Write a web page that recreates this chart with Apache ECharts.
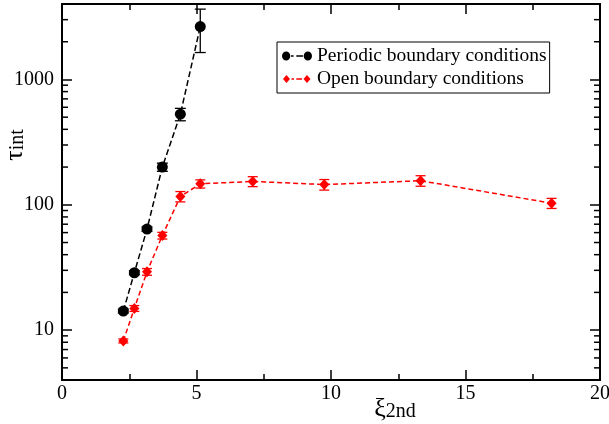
<!DOCTYPE html>
<html><head><meta charset="utf-8">
<script src="https://cdn.jsdelivr.net/npm/echarts@6/dist/echarts.min.js"></script>
<style>html,body{margin:0;padding:0;background:#fff}#c{width:609px;height:424px}</style>
</head><body><div id="c"></div>
<script>
// ---- data ----
const seriesNames = ['Periodic boundary conditions', 'Open boundary conditions'];
const periodicX = [2.28, 2.69, 3.16, 3.73, 4.40, 5.14];
const periodicY = [14.2, 28.7, 64, 200, 528, 2640];
const periodicErr = [0.5, 1, 2.5, 15, 60, 1000];
const openX = [2.28, 2.69, 3.16, 3.73, 4.40, 5.14, 7.09, 9.75, 13.33, 18.2];
const openY = [8.2, 14.9, 29.2, 56.8, 116.5, 147, 153.6, 145, 155.6, 103];
const openErr = [0.3, 0.8, 1.8, 3.5, 11, 11, 14, 14, 15, 9.5];
const xTicks = [0, 5, 10, 15, 20];
const yTickLabels = ['10', '100', '1000'];
const yMinorTicks = [5, 6, 7, 8, 9, 20, 30, 40, 50, 60, 70, 80, 90, 200, 300, 400, 500, 600, 700, 800, 900, 2000, 3000];
const yRange = [4, 4000];
const xTitle = {main: 'ξ', sub: '2nd'};
const yTitle = {main: 'τ', sub: 'int'};

// ---- chart ----
const FONT = '"Liberation Serif", "Times New Roman", serif';
const chart = echarts.init(document.getElementById('c'), null, {renderer: 'canvas'});

function errBar(color, capHalf) {
  return function (params, api) {
    const x = api.value(0), y = api.value(1), e = api.value(2);
    const top = api.coord([x, y + e]);
    const bot = api.coord([x, Math.max(y - e, yRange[0])]);
    const st = {stroke: color, lineWidth: 1.3};
    return {type: 'group', children: [
      {type: 'line', shape: {x1: top[0], y1: top[1], x2: bot[0], y2: bot[1]}, style: st},
      {type: 'line', shape: {x1: top[0] - capHalf, y1: top[1], x2: top[0] + capHalf, y2: top[1]}, style: st},
      {type: 'line', shape: {x1: bot[0] - capHalf, y1: bot[1], x2: bot[0] + capHalf, y2: bot[1]}, style: st}
    ]};
  };
}

const xMin = xTicks[0], xMax = xTicks[xTicks.length - 1];
const tickStyle = {color: '#000', width: 1.5};
function xAxisCfg(pos, showLabel) {
  return {
    type: 'value', position: pos, min: xMin, max: xMax, interval: xTicks[1] - xTicks[0],
    axisLine: {show: true, onZero: false, lineStyle: {color: '#000', width: 2}},
    axisTick: {show: true, inside: true, length: 10, lineStyle: tickStyle},
    minorTick: {show: true, splitNumber: 2, length: 6, lineStyle: tickStyle},
    splitLine: {show: false},
    axisLabel: {show: showLabel, color: '#000', fontFamily: FONT, fontSize: 20, margin: 4},
  };
}
function yAxisCfg(pos, showLabel) {
  return {
    type: 'log', logBase: 10, position: pos, min: yRange[0], max: yRange[1],
    axisLine: {show: true, onZero: false, lineStyle: {color: '#000', width: 2}},
    axisTick: {show: true, inside: true, length: 10, lineStyle: tickStyle},
    minorTick: {show: false},
    splitLine: {show: false},
    axisLabel: {
      show: showLabel, color: '#000', fontFamily: FONT, fontSize: 20, margin: 8,
      padding: [3, 0, 0, 0],
      formatter: function (v) {
        const s = String(Math.round(v));
        return yTickLabels.indexOf(s) >= 0 ? s : '';
      }
    }
  };
}

const titleRich = {
  a: {fontFamily: FONT, fontSize: 26, color: '#000', verticalAlign: 'bottom', lineHeight: 26},
  b: {fontFamily: FONT, fontSize: 20, color: '#000', verticalAlign: 'bottom', lineHeight: 14}
};

const xMain = xAxisCfg('bottom', true);
xMain.name = '{a|' + xTitle.main + '}{b|' + xTitle.sub + '}';
xMain.nameLocation = 'middle';
xMain.nameGap = 16;
xMain.nameMoveOverlap = false;
xMain.nameTextStyle = {padding: [0, 0, 0, 128], rich: titleRich};

const yMain = yAxisCfg('left', true);

const iconPeriodic = 'path://M0 4.5A4.15 4.5 0 1 0 8.3 4.5A4.15 4.5 0 1 0 0 4.5Z M9 3.8L11.6 3.8L11.6 5.2L9 5.2Z M14.3 3.8L21 3.8L21 5.2L14.3 5.2Z M21.7 4.5A4.15 4.5 0 1 0 30 4.5A4.15 4.5 0 1 0 21.7 4.5Z';
const iconOpen = 'path://M4.5 0.5L8 4.5L4.5 8.5L1 4.5Z M9.5 3.8L12 3.8L12 5.2L9.5 5.2Z M14.3 3.8L20 3.8L20 5.2L14.3 5.2Z M25 0.5L28.5 4.5L25 8.5L21.5 4.5Z M0 4.5L0 4.5 M30 4.5L30 4.5 M15 0L15 0 M15 9L15 9';

chart.setOption({
  animation: false,
  backgroundColor: '#fff',
  grid: {left: 62, right: 9, top: 4, bottom: 44, containLabel: false, outerBoundsMode: 'none'},
  xAxis: [xMain, xAxisCfg('top', false)],
  yAxis: [yMain, yAxisCfg('right', false)],
  graphic: [{
    type: 'text', x: 15, y: 145, rotation: Math.PI / 2, silent: true,
    style: {
      text: '{a|' + yTitle.main + '}{b|' + yTitle.sub + '}',
      rich: titleRich, align: 'center', verticalAlign: 'middle',
      fontFamily: FONT, fill: '#000'
    }
  }],
  legend: {
    orient: 'vertical', left: 277, top: 42,
    padding: [3, 3, 3, 5], itemGap: 1,
    itemWidth: 30, itemHeight: 9,
    borderColor: '#000', borderWidth: 1,
    textStyle: {fontFamily: FONT, fontSize: 19.5, color: '#000', lineHeight: 22},
    itemStyle: {borderWidth: 0},
    data: [
      {name: seriesNames[0], icon: iconPeriodic},
      {name: seriesNames[1], icon: iconOpen}
    ]
  },
  series: [
    {
      type: 'custom', name: 'yminor', silent: true, xAxisIndex: 0, yAxisIndex: 0,
      data: yMinorTicks.map(v => [xMin, v]),
      renderItem: function (params, api) {
        const v = api.value(1);
        const l = api.coord([xMin, v]);
        const r = api.coord([xMax, v]);
        const st = {stroke: '#000', lineWidth: 1.5};
        return {type: 'group', children: [
          {type: 'line', shape: {x1: l[0], y1: l[1], x2: l[0] + 6, y2: l[1]}, style: st},
          {type: 'line', shape: {x1: r[0], y1: r[1], x2: r[0] - 6, y2: r[1]}, style: st}
        ]};
      }
    },
    {
      type: 'custom', name: 'perr', silent: true, z: 1,
      data: periodicX.map((x, i) => [x, periodicY[i], periodicErr[i]]),
      renderItem: errBar('#000', 5.5)
    },
    {
      type: 'custom', name: 'oerr', silent: true, z: 1,
      data: openX.map((x, i) => [x, openY[i], openErr[i]]),
      renderItem: errBar('#ff0000', 5)
    },
    {
      type: 'line', name: seriesNames[0], z: 3,
      data: periodicX.map((x, i) => [x, periodicY[i]]),
      symbol: 'circle', symbolSize: 11,
      itemStyle: {color: '#000'},
      lineStyle: {color: '#000', width: 1.5, type: [6, 3]}
    },
    {
      type: 'line', name: seriesNames[1], z: 3,
      data: openX.map((x, i) => [x, openY[i]]),
      symbol: 'diamond', symbolSize: [10, 11],
      itemStyle: {color: '#ff0000'},
      lineStyle: {color: '#ff0000', width: 1.5, type: [5, 3]}
    }
  ]
});
</script>
</body></html>
